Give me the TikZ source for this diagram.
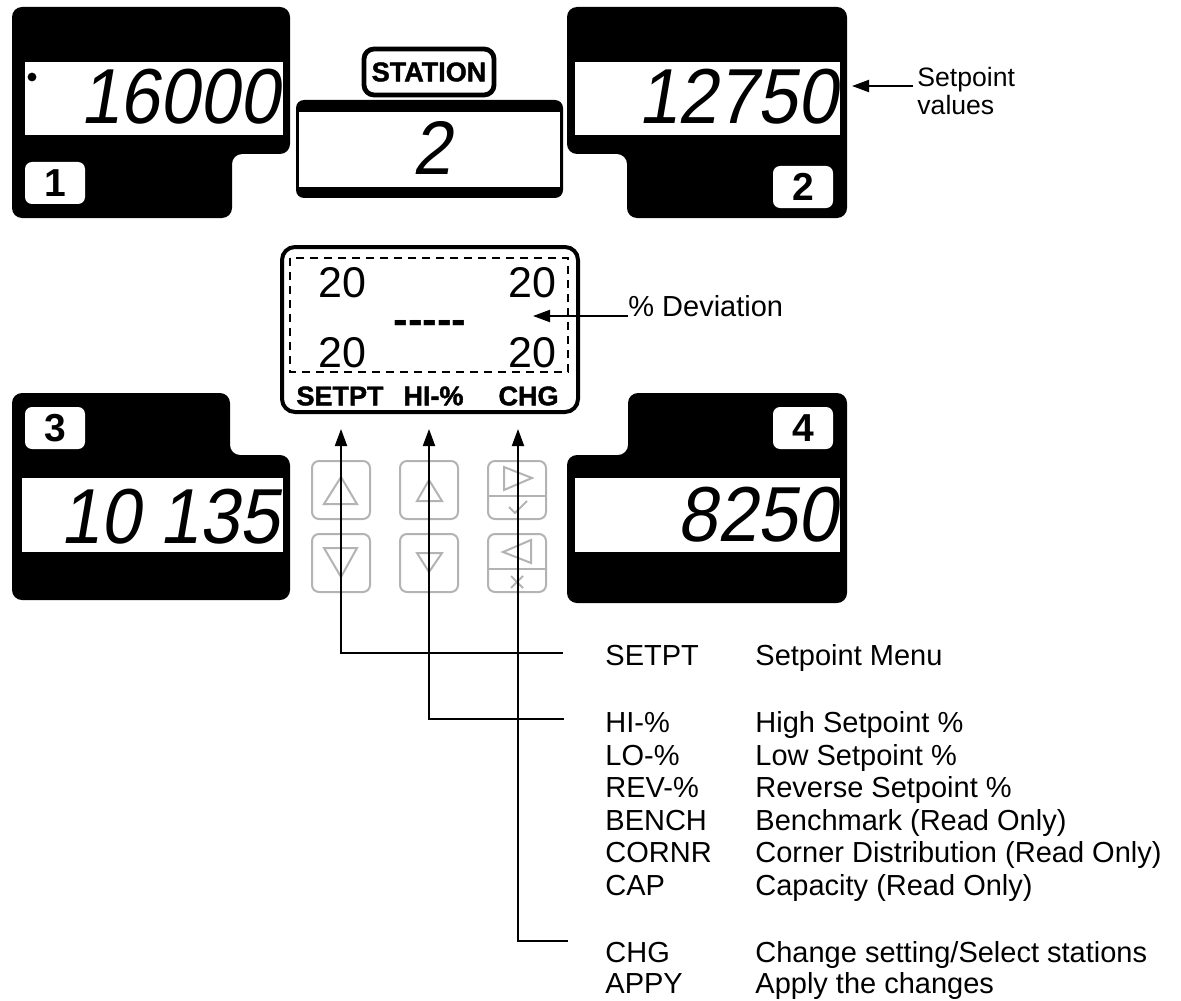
\documentclass[tikz,border=0pt]{standalone}
\usepackage{fontspec}
\setmainfont{Liberation Sans}
\newfontfamily\segfont{Liberation Sans}[FakeSlant=0.17,FakeStretch=0.92]
\newfontfamily\heavyfont{Liberation Sans Bold}[FakeBold=1.6]
\usetikzlibrary{positioning,arrows.meta}
\definecolor{KeyGray}{HTML}{B3B3B3}

\tikzset{
  lcd/.style={fill=black,rounded corners=5pt},
  win/.style={fill=white},
  numbox/.style={fill=white,rounded corners=3.5pt,minimum width=30pt,minimum height=21pt,inner sep=0pt,
                 font=\fontsize{19.5}{20}\selectfont\bfseries},
  segnum/.style={anchor=east,inner sep=0pt,font={\segfont\fontsize{39}{39}\selectfont}},
  pct/.style={inner sep=0pt,font=\fontsize{21.5}{22}\selectfont},
  skey/.style={inner sep=0pt,font={\heavyfont\fontsize{13.5}{14}\selectfont}},
  keybtn/.style={draw=KeyGray,line width=1pt,rounded corners=3.5pt},
  keysym/.style={draw=KeyGray,line width=1pt,line join=miter},
  arr/.style={-{Triangle[length=8.5pt,width=6pt]},line width=1pt},
  legkey/.style={anchor=base west,inner sep=0pt,font=\fontsize{14.5}{16}\selectfont}
}

\begin{document}
\begin{tikzpicture}[x=0.5pt,y=-0.5pt]
\useasboundingbox (0,0) rectangle (1181,1000);

% station displays 1 and 2
\fill[lcd] (12,218) -- (12,7) -- (290,7) -- (290,154) -- (232,154) -- (232,218) -- cycle;
\fill[win] (25,62) rectangle (283,135);
\fill (32,77) circle (2.2pt);
\node[segnum] (v1) at (280,97) {16000};
\node[numbox] (n1) at (55,183) {1};

\fill[lcd] (567,7) -- (847,7) -- (847,218) -- (627,218) -- (627,154) -- (567,154) -- cycle;
\fill[win] (575,62) rectangle (840,135);
\node[segnum] (v2) at (838,97) {12750};
\node[numbox] (n2) at (803,187) {2};

% station displays 3 and 4
\fill[lcd] (12,600) -- (12,393) -- (230,393) -- (230,455) -- (290,455) -- (290,600) -- cycle;
\fill[win] (22,478) rectangle (283,552);
\node[segnum] (v3) at (280,517) {10 135};
\node[numbox] (n3) at (55,428) {3};

\fill[lcd] (628,393) -- (847,393) -- (847,603) -- (567,603) -- (567,455) -- (628,455) -- cycle;
\fill[win] (575,478) rectangle (840,552);
\node[segnum] (v4) at (838,515) {8250};
\node[numbox] (n4) at (803,428) {4};

% selected station
\node[draw,line width=2.4pt,rounded corners=5pt,minimum width=65pt,minimum height=23pt,inner sep=0pt,
      font={\heavyfont\fontsize{13.5}{14}\selectfont}] (stn) at (429,72) {STATION};
\fill[lcd,rounded corners=4pt] (296,100) rectangle (563,198);
\fill[win] (299,112) rectangle (560,187);
\node[segnum,anchor=center,font={\segfont\fontsize{38}{38}\selectfont}] (v0) at (432,148) {2};

% deviation panel
\draw[line width=2pt,rounded corners=6.5pt] (282,247) rectangle (578,412);
\draw[line width=0.8pt,dash pattern=on 4pt off 3pt] (290,258) rectangle (568,372);
\node[pct] (p1) at (342.5,283) {20};
\node[pct] (p2) at (532.5,283) {20};
\node[pct] (p3) at (342.5,353) {20};
\node[pct] (p4) at (532.5,353) {20};
\node[inner sep=0pt,anchor=base,font=\fontsize{22}{22}\selectfont\bfseries] (dash) at (430,334) {-{}-{}-{}-{}-};
\node[skey] (kSET) at (340,396) {SETPT};
\node[skey] (kHI) at (433.5,396) {HI-\%};
\node[skey] (kCHG) at (528.5,396) {CHG};

% keypad
\foreach \x in {312,400,488}
  \foreach \y in {461,534}
    \draw[keybtn] (\x,\y) rectangle ++(58,58);
\draw[keysym] (341,477) -- (324,504) -- (357,504) -- cycle;
\draw[keysym] (324,548) -- (357,548) -- (341,577) -- cycle;
\draw[keysym] (429,480) -- (417,501) -- (442,501) -- cycle;
\draw[keysym] (417,553) -- (442,553) -- (429,572) -- cycle;
\draw[keysym] (504,467) -- (532,478) -- (504,490) -- cycle;
\draw[keysym] (488,496) -- (546,496);
\draw[keysym] (509,507) -- (515,513) -- (527,501);
\draw[keysym] (531,540) -- (503,552) -- (531,563) -- cycle;
\draw[keysym] (488,569) -- (546,569);
\draw[keysym] (511,576) -- (523,588) (511,588) -- (523,576);

% callouts
\node[inner sep=0pt,anchor=north west,align=left,font=\fontsize{13.3}{14}\selectfont] (spv) at (917,67) {Setpoint\\values};
\coordinate (spvL) at (913,86);
\coordinate (spvT) at (852,86);
\draw[arr] (spvL) -- (spvT);
\node[legkey] (devl) at (628,316) {\% Deviation};
\coordinate (devT) at (533,316);
\draw[arr] (devl.base west) -- (devT);

% legend
\coordinate (aSET) at (341,429);
\coordinate (aHI) at (429,429);
\coordinate (aCHG) at (518,429);
\coordinate (mSET) at (563,653);
\coordinate (mHI) at (564,719);
\coordinate (mCHG) at (568,941);
\draw[arr] (mSET) -| (aSET);
\draw[arr] (mHI) -| (aHI);
\draw[arr] (mCHG) -| (aCHG);

\foreach \k/\d/\y [count=\i] in {SETPT/Setpoint Menu/665, HI-\%/High Setpoint \%/732,
    LO-\%/Low Setpoint \%/765, REV-\%/Reverse Setpoint \%/797, BENCH/Benchmark (Read Only)/830,
    CORNR/Corner Distribution (Read Only)/862, CAP/Capacity (Read Only)/895,
    CHG/{Change setting/Select stations}/962, APPY/Apply the changes/993} {
  \node[legkey] (k\i) at (605,\y) {\k};
  \node[legkey] (d\i) at (755,\y) {\d};
}
\end{tikzpicture}
\end{document}
